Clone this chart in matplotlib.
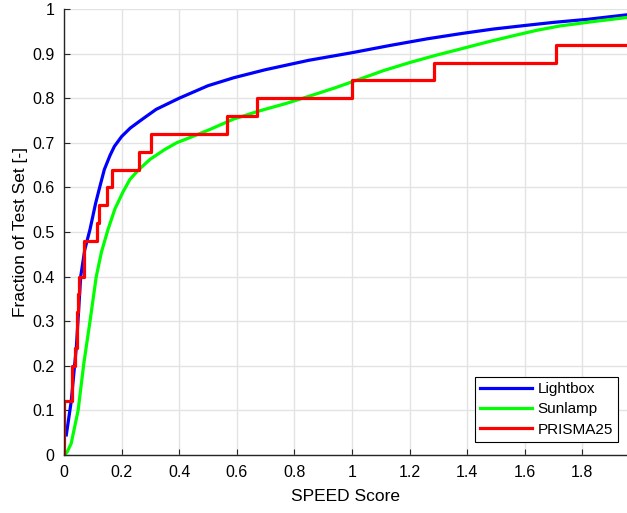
import numpy as np
import matplotlib
matplotlib.use("Agg")
import matplotlib.pyplot as plt
from matplotlib.ticker import FuncFormatter

plt.rcParams['font.family'] = ['Liberation Sans', 'DejaVu Sans']

# Lightbox CDF
lightbox_x = [0.008, 0.025, 0.043, 0.058, 0.072, 0.09, 0.11, 0.125, 0.14, 0.16, 0.175, 0.2,
              0.23, 0.27, 0.32, 0.40, 0.50, 0.59, 0.70, 0.85, 1.0, 1.13, 1.26, 1.38, 1.49,
              1.6, 1.7, 1.82, 1.955]
lightbox_y = [0.045, 0.12, 0.243, 0.40, 0.46, 0.505, 0.565, 0.603, 0.64, 0.672, 0.692, 0.714,
              0.733, 0.752, 0.775, 0.80, 0.828, 0.846, 0.864, 0.885, 0.902, 0.918, 0.933,
              0.945, 0.955, 0.963, 0.97, 0.977, 0.987]

# Sunlamp CDF
sunlamp_x = [0.003, 0.012, 0.025, 0.049, 0.069, 0.091, 0.112, 0.13, 0.153, 0.177, 0.205,
             0.229, 0.26, 0.299, 0.35, 0.391, 0.45, 0.507, 0.588, 0.681, 0.77, 0.854, 0.94,
             1.028, 1.11, 1.201, 1.29, 1.375, 1.47, 1.56, 1.64, 1.722, 1.84, 1.955]
sunlamp_y = [0.0, 0.008, 0.026, 0.10, 0.206, 0.303, 0.40, 0.455, 0.506, 0.552, 0.59, 0.618,
             0.64, 0.663, 0.685, 0.70, 0.715, 0.73, 0.753, 0.772, 0.788, 0.805, 0.823,
             0.843, 0.862, 0.88, 0.896, 0.91, 0.926, 0.94, 0.952, 0.962, 0.972, 0.981]

# PRISMA25 individual scores (25 images, last two off the plotted range)
prisma25 = [0.0, 0.0, 0.001, 0.028, 0.028, 0.037, 0.044, 0.046, 0.049, 0.051, 0.069,
            0.069, 0.116, 0.120, 0.150, 0.168, 0.262, 0.301, 0.565, 0.669, 1.0, 1.285,
            1.707, 2.1, 2.6]

fig = plt.figure(figsize=(6.27, 5.13), dpi=100)
ax = fig.add_axes([64 / 627, 58 / 513, 563 / 627, 446 / 513])

ax.plot(lightbox_x, lightbox_y, color='#0000ff', lw=2.3, label='Lightbox')
ax.plot(sunlamp_x, sunlamp_y, color='#00ff00', lw=2.3, label='Sunlamp')
ax.ecdf(prisma25, color='#ff0000', lw=2.3, label='PRISMA25')

ax.set_xlim(0, 1.955)
ax.set_ylim(0, 1)
ax.set_xticks(np.arange(0, 1.81, 0.2))
ax.set_yticks(np.arange(0, 1.01, 0.1))
fmt = FuncFormatter(lambda v, p: '%g' % round(v, 2))
ax.xaxis.set_major_formatter(fmt)
ax.yaxis.set_major_formatter(fmt)

ax.grid(True, color='#e3e3e3', lw=1.0)
ax.set_axisbelow(True)
for s in ['top', 'right']:
    ax.spines[s].set_visible(False)
for s in ['left', 'bottom']:
    ax.spines[s].set_color('#262626')
    ax.spines[s].set_linewidth(1.0)
ax.tick_params(direction='in', length=4, width=0.8, colors='#262626', labelsize=11.5,
               labelcolor='black')
ax.tick_params(axis='x', pad=7)
ax.tick_params(axis='y', pad=7)

ax.set_xlabel('SPEED Score', fontsize=12.5, labelpad=7)
ax.set_ylabel('Fraction of Test Set [-]', fontsize=12.5, labelpad=3)

leg = ax.legend(loc='lower right', bbox_to_anchor=(0.984, 0.029), borderaxespad=0,
                fancybox=False, edgecolor='black', framealpha=1, fontsize=11,
                handlelength=3.4, handletextpad=0.35, labelspacing=0.42, borderpad=0.35)
leg.get_frame().set_linewidth(0.8)

fig.savefig('out.png', dpi=100)
